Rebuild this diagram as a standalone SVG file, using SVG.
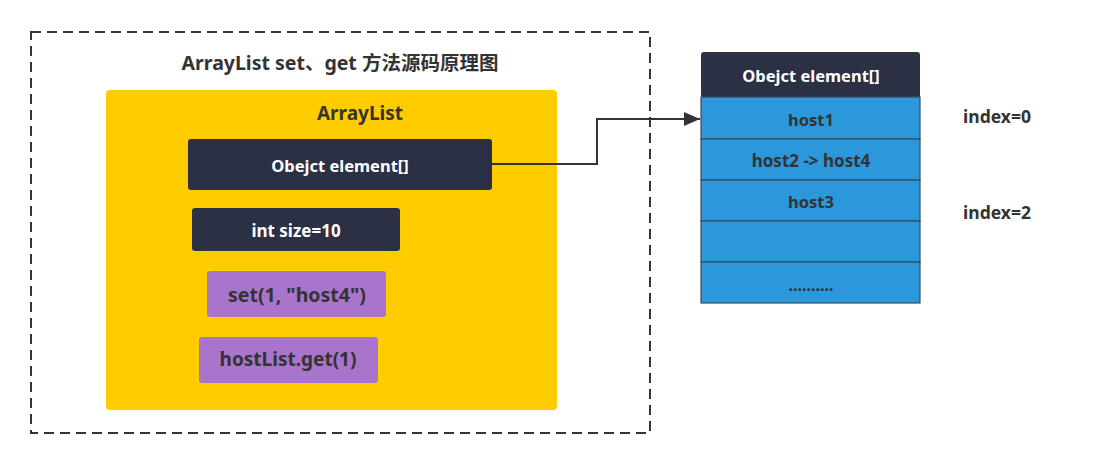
<svg xmlns="http://www.w3.org/2000/svg" width="1098" height="465" viewBox="0 0 1098 465">
<style>
text{font-family:"Noto Sans","Noto Sans CJK SC",sans-serif;font-weight:bold;text-anchor:middle;dominant-baseline:central}
.d{fill:#333333}
.w{fill:#ffffff}
.dark{fill:#2c3045}
.pur{fill:#a974cc}
.row{fill:#2a98da;stroke:#3a4a5a;stroke-width:1.2}
</style>
<defs>
<marker id="arr" markerWidth="16" markerHeight="14" refX="16" refY="7" orient="auto" markerUnits="userSpaceOnUse" viewBox="0 0 16 14">
<path d="M0,0 L16,7 L0,14 z" fill="#333333"/>
</marker>
</defs>
<rect width="1098" height="465" fill="#ffffff"/>
<g id="frame">
<rect x="31" y="32" width="619" height="401" fill="none" stroke="#333333" stroke-width="2" stroke-dasharray="10,6"/>
<text x="340" y="62" class="d" font-size="19.5">ArrayList set、get 方法源码原理图</text>
</g>
<g id="arraylist">
<rect x="106" y="90" width="451" height="320" rx="4" fill="#ffcc00"/>
<text x="360" y="113" class="d" font-size="19">ArrayList</text>
</g>
<g id="element">
<rect x="188" y="139" width="304" height="51" rx="3" class="dark"/>
<text x="340" y="165" class="w" font-size="16.5">Obejct element[]</text>
</g>
<g id="size">
<rect x="192" y="208" width="208" height="43" rx="3" class="dark"/>
<text x="296" y="230" class="w" font-size="17">int size=10</text>
</g>
<g id="set">
<rect x="207" y="271" width="179" height="46" rx="3" class="pur"/>
<text x="297" y="294" class="d" font-size="19.5">set(1, "host4")</text>
</g>
<g id="get">
<rect x="199" y="337" width="179" height="46" rx="3" class="pur"/>
<text x="288" y="359" class="d" font-size="19">hostList.get(1)</text>
</g>
<g id="array">
<rect x="701" y="52" width="219" height="46" rx="3" class="dark"/>
<text x="811" y="75" class="w" font-size="16.5">Obejct element[]</text>
<rect x="701" y="97" width="219" height="42" class="row"/>
<rect x="701" y="139" width="219" height="41" class="row"/>
<rect x="701" y="180" width="219" height="41" class="row"/>
<rect x="701" y="221" width="219" height="41" class="row"/>
<rect x="701" y="262" width="219" height="41" class="row"/>
<text x="811" y="119" class="d" font-size="16.5">host1</text>
<text x="811" y="160" class="d" font-size="17">host2 -&gt; host4</text>
<text x="811" y="201" class="d" font-size="16.5">host3</text>
<text x="811" y="285" class="d" font-size="16">..........</text>
</g>
<g id="labels">
<text x="997" y="116" class="d" font-size="17.5">index=0</text>
<text x="997" y="212" class="d" font-size="17.5">index=2</text>
</g>
<g id="connectors">
<path d="M492,164 H597 V119 H700" fill="none" stroke="#333333" stroke-width="2" marker-end="url(#arr)"/>
</g>
</svg>
